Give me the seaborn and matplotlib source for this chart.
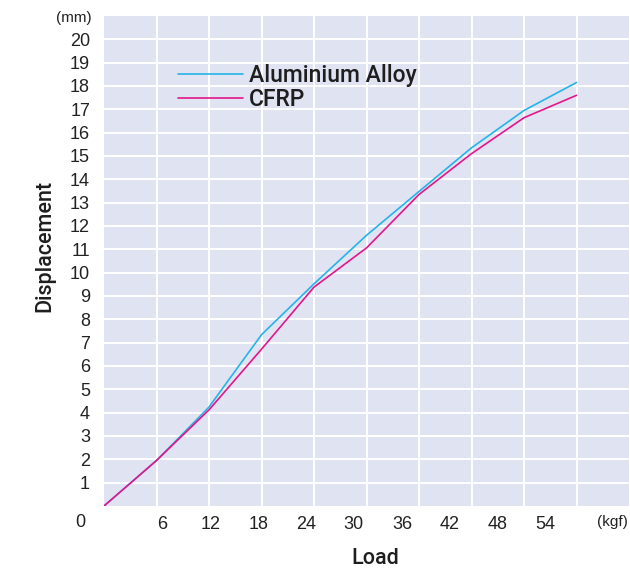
import matplotlib
matplotlib.use("Agg")
import matplotlib.pyplot as plt
import seaborn as sns
import pandas as pd

# ---- data ----
load = [0, 6, 12, 18, 24, 30, 36, 42, 48, 54]
aluminium = [0, 1.95, 4.24, 7.34, 9.52, 11.6, 13.48, 15.35, 16.95, 18.15]
cfrp = [0, 1.95, 4.12, 6.72, 9.38, 11.06, 13.35, 15.1, 16.64, 17.6]
series_names = ["Aluminium Alloy", "CFRP"]
x_tick_labels = ["6", "12", "18", "24", "30", "36", "42", "48", "54"]
y_ticks = list(range(1, 21))

df = pd.DataFrame({
    "Load": load * 2,
    "Displacement": aluminium + cfrp,
    "Material": [series_names[0]] * len(load) + [series_names[1]] * len(load),
})

sns.set_theme(style="darkgrid")
plt.rcParams["font.family"] = ["Liberation Sans", "DejaVu Sans"]

fig = plt.figure(figsize=(6.3, 5.7), dpi=100)
ax = fig.add_axes([104 / 630, 1 - 506 / 570, 525 / 630, 490 / 570])
ax.set_facecolor("#dfe3f2")

palette = {series_names[0]: "#25b4e8", series_names[1]: "#e5168a"}
sns.lineplot(data=df, x="Load", y="Displacement", hue="Material",
             palette=palette, linewidth=1.2, ax=ax)

ax.set_xlim(0, 60)
ax.set_ylim(0, 21)

# grid at every 6 kgf / every 1 mm
ax.set_xticks(load[1:])
ax.set_xticklabels([])
ax.set_yticks(y_ticks)
ax.set_yticklabels([str(v) for v in y_ticks], fontsize=13, color="#222222")
ax.grid(True, color="white", linewidth=1.4)
ax.tick_params(axis="both", length=0)
ax.tick_params(axis="y", pad=10)

# x tick labels placed as in the reference (offset from the grid lines)
label_pos = [6.64, 12.14, 17.63, 23.13, 28.51, 34.12, 39.5, 45.0, 50.38]
ax.set_xticks(label_pos, minor=True)
ax.set_xticklabels(x_tick_labels, minor=True, fontsize=13, color="#222222")
ax.tick_params(axis="x", which="minor", length=0, pad=7)
ax.grid(False, which="minor")

for s in ax.spines.values():
    s.set_visible(False)

ax.text(-0.046, -0.033, "0", transform=ax.transAxes, fontsize=13,
        color="#222222", ha="center", va="center")
ax.text(0.968, -0.033, "(kgf)", transform=ax.transAxes, fontsize=11,
        color="#222222", ha="center", va="center")
ax.text(-0.058, 0.995, "(mm)", transform=ax.transAxes, fontsize=11,
        color="#222222", ha="center", va="center")

label_font = {"family": ["Roboto", "DejaVu Sans"], "size": 15.5, "weight": "medium",
              "color": "#1e1e1e"}
ax.set_xlabel("Load", fontdict=label_font)
ax.set_ylabel("Displacement", fontdict=label_font)
ax.xaxis.set_label_coords(0.517, -0.086)
ax.yaxis.set_label_coords(-0.092, 0.53)

leg = ax.legend(loc="upper left", bbox_to_anchor=(0.141, 0.902), frameon=False,
                handlelength=2.85, handletextpad=0.25,
                labelspacing=0.05, borderpad=0, borderaxespad=0,
                prop={"family": ["Roboto", "DejaVu Sans"], "size": 16.5,
                      "weight": "medium"})
for line in leg.get_lines():
    line.set_linewidth(1.2)
for t in leg.get_texts():
    t.set_color("#1e1e1e")

fig.savefig("out.png", dpi=100)
